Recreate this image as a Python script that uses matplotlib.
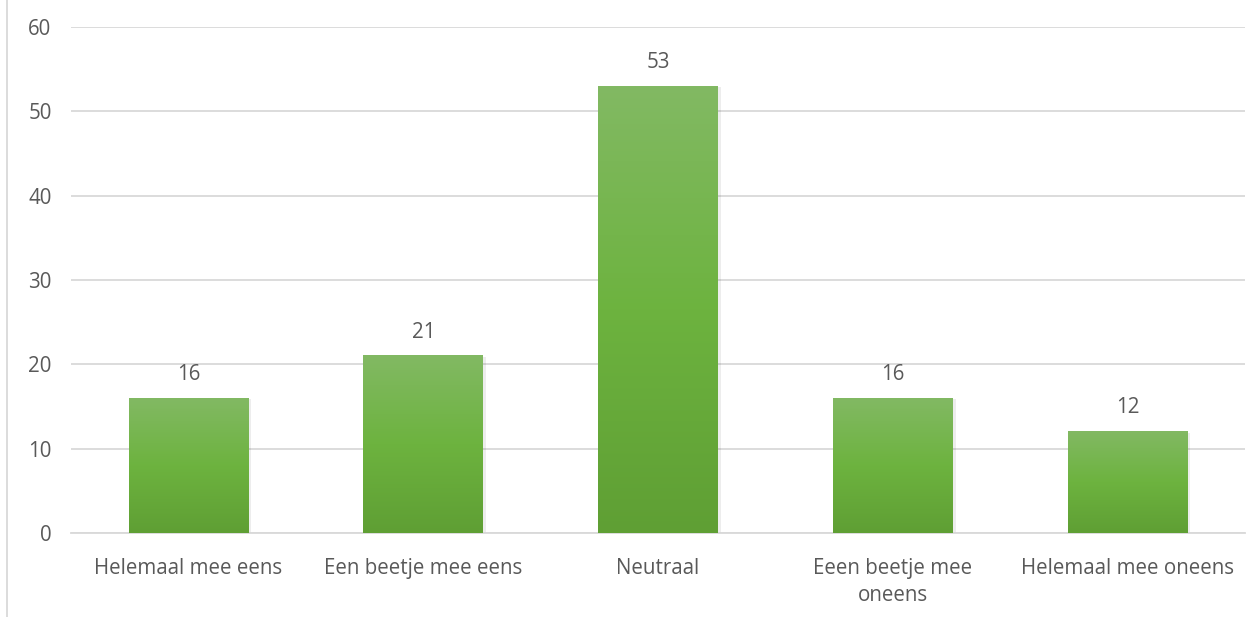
import numpy as np
import matplotlib.pyplot as plt
from matplotlib.lines import Line2D
from matplotlib.colors import LinearSegmentedColormap

categories = ["Helemaal mee eens", "Een beetje mee eens", "Neutraal",
              "Eeen beetje mee\noneens", "Helemaal mee oneens"]
values = [16, 21, 53, 16, 12]
yticks = [0, 10, 20, 30, 40, 50, 60]

textgray = '#595959'
gridgray = '#d9d9d9'

plt.rcParams['font.family'] = ['Open Sans', 'DejaVu Sans']

fig = plt.figure(figsize=(12.59, 6.17), dpi=100)
ax = fig.add_axes([0.0564, 0.136, 0.9326, 0.820])

x = np.arange(len(categories))
bars = ax.bar(x, values, width=0.51, color='#6aac3e', zorder=2)

# gradient fill on each bar, light at the top, darker at the bottom
cmap = LinearSegmentedColormap.from_list('g', ['#5f9f34', '#6db33f', '#82b963'])
grad = np.linspace(0, 1, 256).reshape(-1, 1)
for b in bars:
    x0, w, h = b.get_x(), b.get_width(), b.get_height()
    # soft shadow to the right
    ax.bar(x0 + w / 2 + 0.012, h, width=w, bottom=-0.15, color='#000000',
           alpha=0.07, zorder=1.5)
    ax.imshow(grad, cmap=cmap, origin='lower', aspect='auto',
              extent=[x0, x0 + w, 0, h], zorder=3)
    ax.text(x0 + w / 2, h + 1.6, f"{h:g}", ha='center', va='bottom',
            fontsize=14.8, color=textgray, zorder=4)

ax.set_xlim(-0.5, len(categories) - 0.5)
ax.set_ylim(0, 60)
ax.set_yticks(yticks)
ax.set_xticks(x)
ax.set_xticklabels(categories, linespacing=1.35)
ax.tick_params(axis='both', length=0, labelsize=14.8, labelcolor=textgray)
ax.tick_params(axis='y', pad=14)
ax.tick_params(axis='x', pad=18)

ax.yaxis.grid(True, color=gridgray, linewidth=1.3, zorder=0)
ax.set_axisbelow(True)
for s in ['top', 'right', 'left']:
    ax.spines[s].set_visible(False)
ax.spines['bottom'].set_color(gridgray)
ax.spines['bottom'].set_linewidth(1.3)

# chart area border on the left
fig.add_artist(Line2D([7 / 1259, 7 / 1259], [0, 1], color=gridgray, linewidth=1.3))

fig.savefig('out.png', dpi=100)
